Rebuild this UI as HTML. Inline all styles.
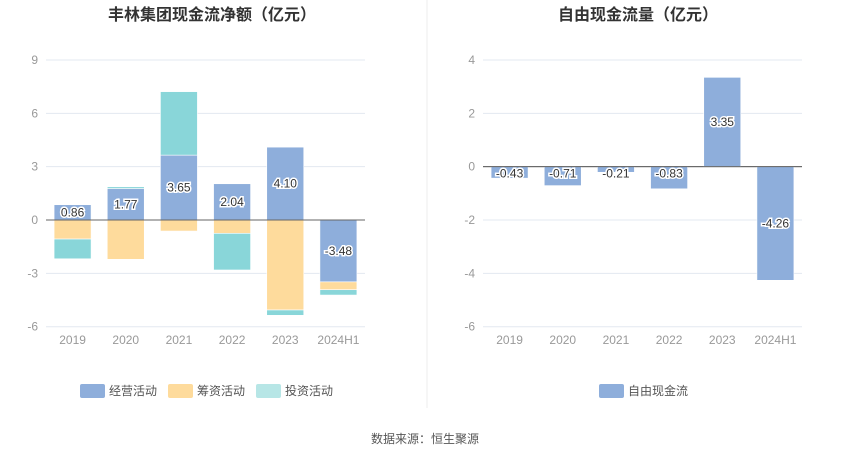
<!DOCTYPE html>
<html><head><meta charset="utf-8">
<style>
body{margin:0;background:#fff;font-family:"Liberation Sans","Noto Sans CJK SC",sans-serif;}
svg text{font-family:"Liberation Sans","Noto Sans CJK SC",sans-serif;}
</style></head>
<body>
<svg id="c" width="850" height="459" xmlns="http://www.w3.org/2000/svg">
<text x="212" y="20" text-anchor="middle" font-size="16" font-weight="bold" fill="#333">丰林集团现金流净额（亿元）</text>
<text x="638" y="20" text-anchor="middle" font-size="16" font-weight="bold" fill="#333">自由现金流量（亿元）</text>
<line x1="427" y1="0" x2="427" y2="408" stroke="#eee"/>
<g id="L"></g>
<g id="R"></g>
<g>
<g><rect x="80" y="384" width="25" height="14" rx="2" fill="#8eaedb"/><text x="109" y="395" font-size="12" fill="#555">经营活动</text></g>
<g><rect x="168" y="384" width="25" height="14" rx="2" fill="#fedb9c"/><text x="197" y="395" font-size="12" fill="#555">筹资活动</text></g>
<g><rect x="256" y="384" width="25" height="14" rx="2" fill="#b7e6e6"/><text x="285" y="395" font-size="12" fill="#555">投资活动</text></g>
</g>
<g>
<g><rect x="599" y="384" width="25" height="14" rx="2" fill="#8eaedb"/><text x="628" y="395" font-size="12" fill="#555">自由现金流</text></g>
</g>
<text x="425" y="443" text-anchor="middle" font-size="12" fill="#555">数据来源：恒生聚源</text>
</svg>
<script>
const categories=["2019","2020","2021","2022","2023","2024H1"];
const operating=[0.86,1.77,3.65,2.04,4.10,-3.48];
const financing=[-1.07,-2.21,-0.62,-0.75,-5.06,-0.44];
const investing=[-1.11,0.10,3.57,-2.06,-0.30,-0.30];
const leftTicks=[9,6,3,0,-3,-6];
const fcf=[-0.43,-0.71,-0.21,-0.83,3.35,-4.26];
const rightTicks=[4,2,0,-2,-4,-6];
const NS="http://www.w3.org/2000/svg";
function mk(p,t,a){const e=document.createElementNS(NS,t);for(const k in a)e.setAttribute(k,a[k]);p.appendChild(e);return e;}
function axis(g,x0,x1,ymax,ymin,ticks){
  const top=60,bot=326.7;
  const y=v=>top+(ymax-v)/(ymax-ymin)*(bot-top);
  ticks.forEach(t=>{
    const l=mk(g,"line",{x1:x0,x2:x1,y1:y(t),y2:y(t),stroke:t===0?"#666":"#e3e8f0"});
    
    
    const tx=mk(g,"text",{x:x0-8,y:y(t)+4,"text-anchor":"end","font-size":"12",fill:"#999"});tx.textContent=t;
    
    
  });
  const step=(x1-x0)/categories.length;
  const xc=i=>x0+step*(i+0.5);
  categories.forEach((c,i)=>{
    const tx=mk(g,"text",{x:xc(i),y:344,"text-anchor":"middle","font-size":"12",fill:"#999"});tx.textContent=c;
    
    
  });
  return {y,xc};
}
function bar(g,x,v0,v1,ax,col,name){
  const a=ax.y(v0),b=ax.y(v1);
  const r=mk(g,"rect",{x:x-18.5,y:Math.min(a,b),width:37,height:Math.abs(a-b),fill:col,stroke:"#fff","stroke-width":"0.6"});
  
  
}
function label(g,x,yy,txt){
  const t=mk(g,"text",{x:x,y:yy+4,"text-anchor":"middle","font-size":"12",fill:"#333",stroke:"#fff","stroke-width":"3","paint-order":"stroke"});t.textContent=txt;
  
  
}
const L=document.getElementById("L");
const la=axis(L,46,365,9,-6,leftTicks);
const R=document.getElementById("R");
const ra=axis(R,483,802,4,-6,rightTicks);
// stacked left
categories.forEach((c,i)=>{
  let pos=0,neg=0;
  [[operating,"#8eaedb","bar-operating"],[financing,"#fedb9c","bar-financing"],[investing,"#89d6d9","bar-investing"]].forEach(([arr,col,n])=>{
    const v=arr[i];
    if(v>=0){bar(L,la.xc(i),pos,pos+v,la,col,n);pos+=v;}
    else{bar(L,la.xc(i),neg,neg+v,la,col,n);neg+=v;}
  });
});
mk(L,"line",{x1:46,x2:365,y1:la.y(0),y2:la.y(0),stroke:"#666"});
categories.forEach((c,i)=>label(L,la.xc(i),la.y(operating[i]/2),operating[i].toFixed(2)));
categories.forEach((c,i)=>{bar(R,ra.xc(i),0,fcf[i],ra,"#8eaedb","bar-fcf");});
mk(R,"line",{x1:483,x2:802,y1:ra.y(0),y2:ra.y(0),stroke:"#666"});
categories.forEach((c,i)=>{
  const yy=Math.abs(fcf[i])<1?ra.y(0)+7:ra.y(fcf[i]/2);
  label(R,ra.xc(i),yy,fcf[i].toFixed(2));
});
</script>
</body></html>
